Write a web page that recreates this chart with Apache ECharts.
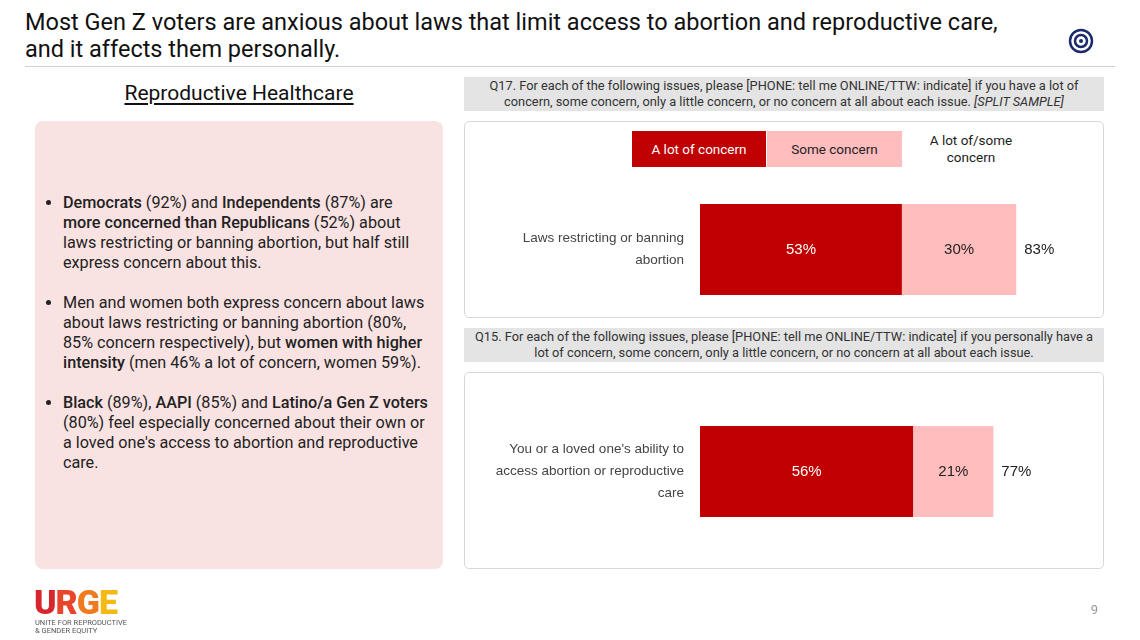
<!DOCTYPE html>
<html>
<head>
<meta charset="utf-8">
<script src="https://cdn.jsdelivr.net/npm/echarts@6/dist/echarts.min.js"></script>
<style>
  body { margin:0; width:1140px; height:640px; position:relative; background:#fff; font-family:Roboto, "Noto Sans", sans-serif; color:#111; overflow:hidden; }
  .abs { position:absolute; }
  #title { left:25px; top:9px; font-size:23.5px; line-height:27px; color:#111; }
  #rule { left:25px; top:66px; width:1090px; height:1px; background:#d0d0d0; }
  #sub { left:35px; top:81px; width:408px; text-align:center; font-size:21px; text-decoration:underline; text-underline-offset:3px; }
  #panel { left:35px; top:121px; width:408px; height:448px; background:#f9e2e2; border-radius:8px; }
  #panel ul { margin:0; padding:0 0 0 28px; position:absolute; top:72px; width:366px; font-size:16.2px; line-height:20px; color:#222; }
  #panel li { margin-bottom:20px; }
  .q { left:464px; width:640px; background:#e4e4e4; font-size:12.8px; line-height:16px; text-align:center; color:#333; padding:1px 0; }
  .box { left:464px; width:638px; height:195px; border:1.5px solid #d8d8d8; border-radius:5px; }
  .leg { top:131px; height:36px; font-size:13.5px; display:flex; align-items:center; justify-content:center; }
  #chart { left:0; top:0; width:1140px; height:640px; }
  #page { right:42px; top:602px; font-size:13px; color:#999; }
  b { font-weight:500; }
</style>
</head>
<body>
<div class="abs" id="title">Most Gen Z voters are anxious about laws that limit access to abortion and reproductive care,<br>and it affects them personally.</div>
<svg class="abs" style="left:1068px;top:28px" width="26" height="26"><circle cx="13" cy="13" r="11" fill="none" stroke="#1a2a6c" stroke-width="2.5"/><circle cx="13" cy="13" r="6" fill="none" stroke="#1a2a6c" stroke-width="2.5"/><circle cx="13" cy="13" r="2" fill="#1a2a6c"/></svg>
<div class="abs" id="rule"></div>
<div class="abs" id="sub">Reproductive Healthcare</div>
<div class="abs" id="panel">
  <ul>
    <li><b>Democrats</b> (92%) and <b>Independents</b> (87%) are <b>more concerned than Republicans</b> (52%) about laws restricting or banning abortion, but half still express concern about this.</li>
    <li>Men and women both express concern about laws about laws restricting or banning abortion (80%, 85% concern respectively), but <b>women with higher intensity</b> (men 46% a lot of concern, women 59%).</li>
    <li><b>Black</b> (89%), <b>AAPI</b> (85%) and <b>Latino/a Gen Z voters</b> (80%) feel especially concerned about their own or a loved one's access to abortion and reproductive care.</li>
  </ul>
</div>
<div class="abs q" style="top:77px">Q17. For each of the following issues, please [PHONE: tell me ONLINE/TTW: indicate] if you have a lot of<br>concern, some concern, only a little concern, or no concern at all about each issue. <i>[SPLIT SAMPLE]</i></div>
<div class="abs box" style="top:121px"></div>
<div class="abs q" style="top:328px">Q15. For each of the following issues, please [PHONE: tell me ONLINE/TTW: indicate] if you personally have a<br>lot of concern, some concern, only a little concern, or no concern at all about each issue.</div>
<div class="abs box" style="top:372px"></div>
<div class="abs leg" style="left:632px;width:134px;background:#c00000;color:#fff">A lot of concern</div>
<div class="abs leg" style="left:767px;width:135px;background:#ffbdbd;color:#222">Some concern</div>
<div class="abs leg" style="left:910px;width:122px;color:#222;text-align:center;line-height:17px">A lot of/some<br>concern</div>
<div class="abs" id="chart"></div>
<div class="abs" style="left:34px;top:586px;font-size:34px;font-weight:900;letter-spacing:-1px;line-height:32px"><span style="color:#d7262e">U</span><span style="color:#e8452b">R</span><span style="color:#f07a1e">G</span><span style="color:#f5b915">E</span></div>
<div class="abs" style="left:35px;top:619px;font-size:7.5px;line-height:8px;color:#555">UNITE FOR REPRODUCTIVE<br>&amp; GENDER EQUITY</div>
<div class="abs" id="page">9</div>
<script>
var issues1 = ['Laws restricting or banning\nabortion'];
var alot1 = [53], some1 = [30], total1 = [83];
var issues2 = ["You or a loved one's ability to\naccess abortion or reproductive\ncare"];
var alot2 = [56], some2 = [21], total2 = [77];

var chart = echarts.init(document.getElementById('chart'));
function grid(top) { return { left: 700, width: 381, top: top, height: 91 }; }
function xAx(i) { return { gridIndex: i, type: 'value', min: 0, max: 100, show: false }; }
function yAx(i, data) {
  return { gridIndex: i, type: 'category', data: data, axisLine: {show:false}, axisTick: {show:false},
    axisLabel: { color: '#444', fontSize: 13.5, lineHeight: 22, margin: 16, align: 'right' } };
}
function bars(i, a, s, t) {
  var lab = { show: true, fontSize: 15, fontWeight: 500, formatter: '{c}%' };
  return [
    { type: 'bar', xAxisIndex: i, yAxisIndex: i, stack: 's' + i, data: a, barWidth: 91,
      itemStyle: { color: '#c00000' }, label: Object.assign({ color: '#fff' }, lab) },
    { type: 'bar', xAxisIndex: i, yAxisIndex: i, stack: 's' + i, data: s, barWidth: 91,
      itemStyle: { color: '#ffbdbd' }, label: Object.assign({ color: '#222' }, lab) },
    { type: 'bar', xAxisIndex: i, yAxisIndex: i, data: t, barWidth: 91, barGap: '-100%', z: 1,
      itemStyle: { color: 'rgba(0,0,0,0)' },
      label: Object.assign({ color: '#222', position: 'right', distance: 8 }, lab) }
  ];
}
chart.setOption({
  animation: false,
  grid: [grid(204), grid(426)],
  xAxis: [xAx(0), xAx(1)],
  yAxis: [yAx(0, issues1), yAx(1, issues2)],
  series: bars(0, alot1, some1, total1).concat(bars(1, alot2, some2, total2))
});
</script>
</body>
</html>
